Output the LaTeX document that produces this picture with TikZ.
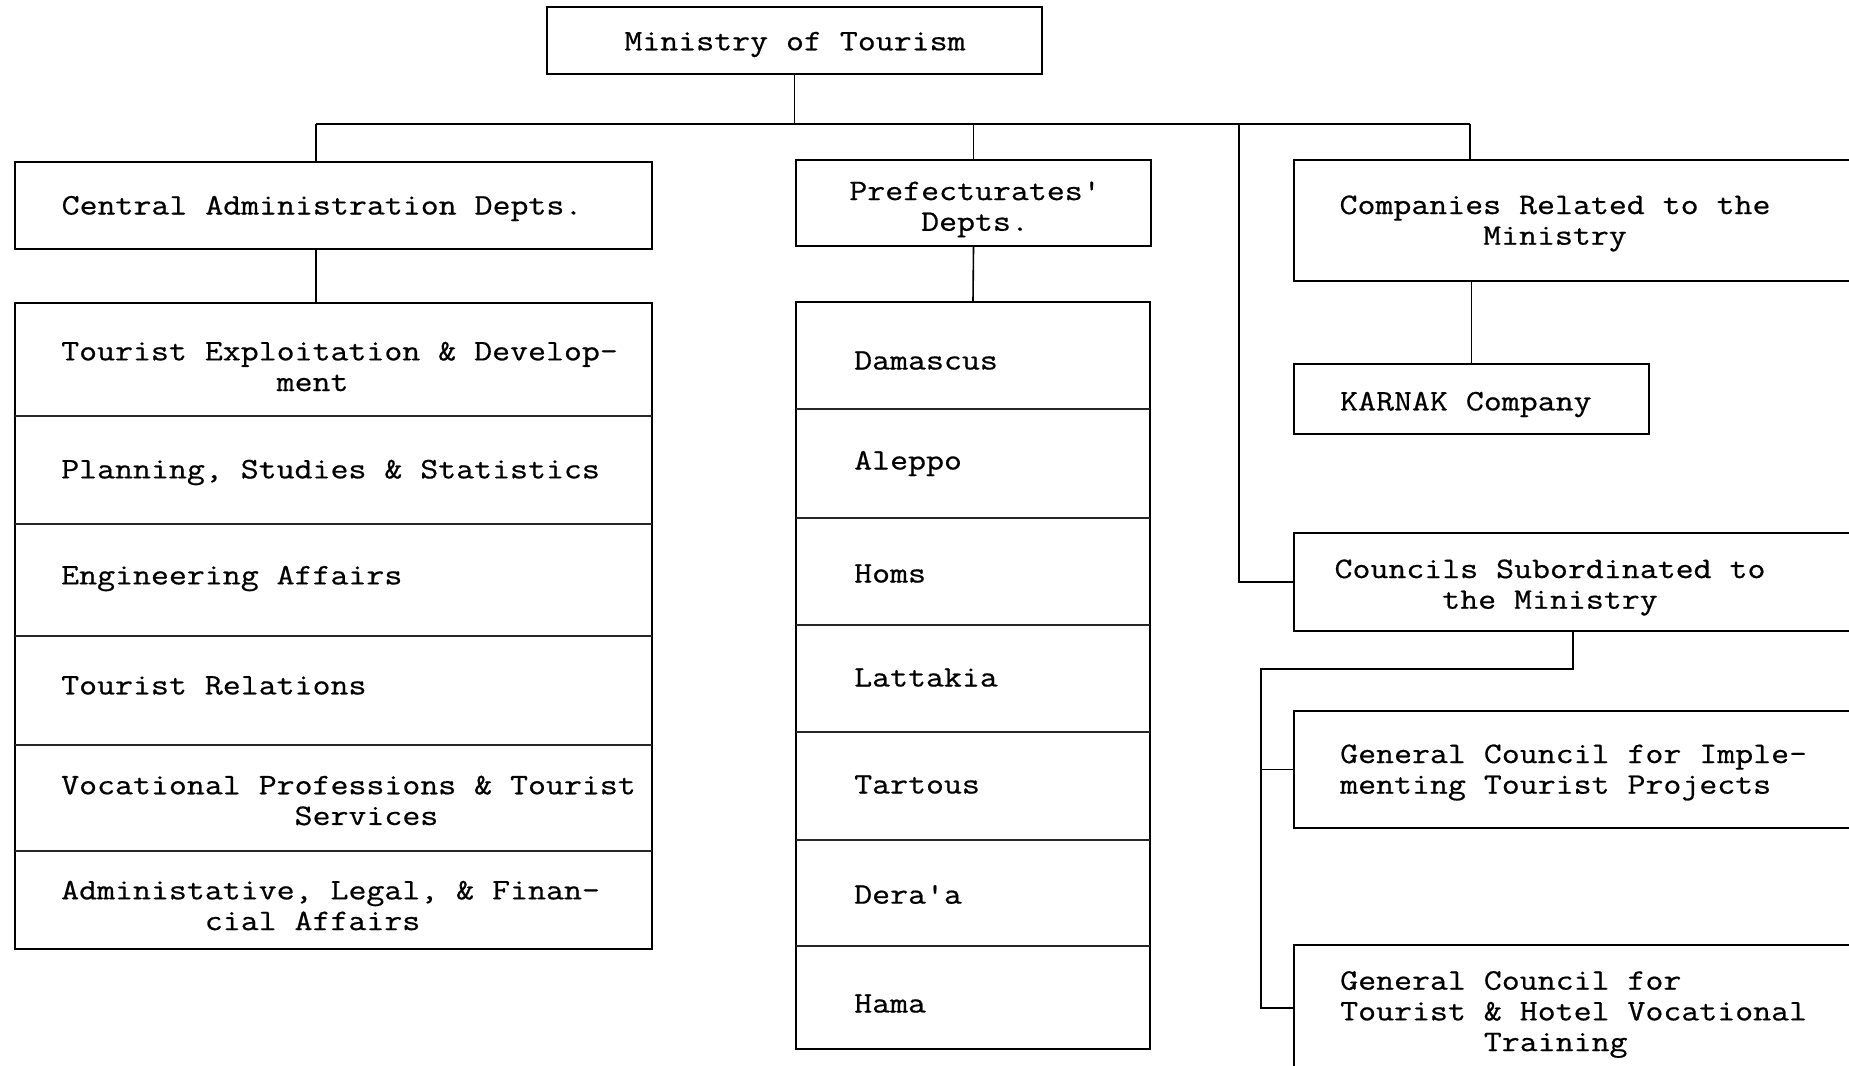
\documentclass[tikz,border=0pt]{standalone}
\usepackage{fontspec}
\newfontfamily\tw{Latin Modern Mono}[FakeStretch=1.17,FakeBold=0.6]
\begin{document}
\begin{tikzpicture}[x=1pt,y=-1pt,
  box/.style={draw, line width=2.2pt, rectangle, inner sep=0pt},
  conn/.style={line width=1.6pt},
  divider/.style={line width=1.1pt, black!85},
  lbl/.style={font=\tw\fontsize{29.8}{30.7}\selectfont, inner sep=0pt, align=center, yshift=-3.5pt},
  lleft/.style={lbl, anchor=west, align=left}
]
\useasboundingbox (0,0) rectangle (1849,1065);
\clip (0,0) rectangle (1849,1065);
\fill[white] (0,0) rectangle (1849,1065);

% header boxes
\node[box, minimum width=495pt, minimum height=67pt] (min) at (794.5,40.5) {};
\node[lbl] (tmin) at (795,41) {Ministry of Tourism};

\node[box, minimum width=637pt, minimum height=87pt] (cad) at (333.5,205.5) {};
\node[lbl] (tcad) at (322,205) {Central Administration Depts.};

\node[box, minimum width=355pt, minimum height=86pt] (pref) at (973.5,203) {};
\node[lbl] (tpref) at (975,206) {Prefecturates'\\Depts.};

\node[box, minimum width=606pt, minimum height=121pt] (cmp) at (1597,220.5) {};
\node[lbl] (tcmp) at (1555,220) {Companies Related to the\\Ministry};

\node[box, minimum width=355pt, minimum height=70pt] (kar) at (1471.5,399) {};
\node[lleft] (tkar) at (1340,401) {KARNAK Company};

\node[box, minimum width=606pt, minimum height=98pt] (cou) at (1597,582) {};
\node[lbl] (tcou) at (1550,584) {Councils Subordinated to\\the Ministry};

\node[box, minimum width=606pt, minimum height=117pt] (gc1) at (1597,769.5) {};
\node[lleft] (tgc1) at (1340,769) {General Council for Imple-\\menting Tourist Projects};

\node[box, minimum width=606pt, minimum height=155pt] (gc2) at (1597,1022.5) {};
\node[lleft] (tgc2) at (1340,1011) {General Council for\\Tourist \& Hotel Vocational\\\phantom{XXXXXXXX}Training};

% central list
\node[box, minimum width=637pt, minimum height=646pt] (cl) at (333.5,626) {};
\draw[divider] (15,416) -- (652,416);
\draw[divider] (15,524) -- (652,524);
\draw[divider] (15,636) -- (652,636);
\draw[divider] (15,745) -- (652,745);
\draw[divider] (15,851) -- (652,851);
\node[lleft] (c1) at (61,363) {Tourist Exploitation \& Develop-\\\phantom{XXXXXXXXXXXX}ment};
\node[lleft] (c2) at (61,469) {Planning, Studies \& Statistics};
\node[lleft] (c3) at (61,575) {Engineering Affairs};
\node[lleft] (c4) at (61,682) {Tourist Relations};
\node[lleft] (c5) at (61,797) {Vocational Professions \& Tourist\\\phantom{XXXXXXXXXXXXX}Services};
\node[lleft] (c6) at (61,902) {Administative, Legal, \& Finan-\\\phantom{XXXXXXXX}cial Affairs};

% prefecture list
\node[box, minimum width=354pt, minimum height=747pt] (pl) at (973,675.5) {};
\draw[divider] (796,409) -- (1150,409);
\draw[divider] (796,518) -- (1150,518);
\draw[divider] (796,625) -- (1150,625);
\draw[divider] (796,732) -- (1150,732);
\draw[divider] (796,840) -- (1150,840);
\draw[divider] (796,946) -- (1150,946);
\node[lleft] (p1) at (854,357) {Damascus};
\node[lleft] (p2) at (854,460) {Aleppo};
\node[lleft] (p3) at (854,570) {Homs};
\node[lleft] (p4) at (854,674) {Lattakia};
\node[lleft] (p5) at (854,781) {Tartous};
\node[lleft] (p6) at (854,891) {Dera'a};
\node[lleft] (p7) at (854,1000) {Hama};

% connectors
\coordinate (bl) at (316,124);
\coordinate (br) at (1470,124);
\coordinate (bv) at (1239,124);
\draw[conn] (min.south) -- (min.south |- bl);
\draw[conn] (bl) -- (br);
\draw[conn] (bl) -- (bl |- cad.north);
\draw[conn] (pref.north |- bl) -- (pref.north);
\draw[conn] (br) -- (br |- cmp.north);
\draw[conn] (cmp.south -| kar.north) -- (kar.north);
\draw[conn] (bv) |- (cou.west);
\draw[conn] (cad.south -| bl) -- (cl.north -| bl);
\draw[conn] (pref.south) -- (pl.north);

\coordinate (j1) at (1573,669);
\coordinate (j2) at (1261,669);
\coordinate (j3) at (1261,1008);
\draw[conn] (cou.south -| j1) -- (j1) -- (j2) -- (j3) -- (j3 -| gc2.west);
\draw[conn] (gc1.west) -- (gc1.west -| j2);
\end{tikzpicture}
\end{document}
